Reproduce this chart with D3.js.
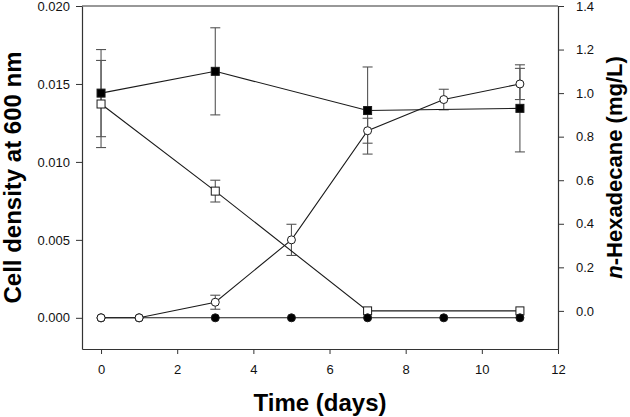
<!DOCTYPE html>
<html>
<head>
<meta charset="utf-8">
<script src="https://cdn.jsdelivr.net/npm/d3@7"></script>
<style>
  html, body { margin: 0; padding: 0; background: #fff; }
  svg { display: block; font-family: "Liberation Sans", Arial, sans-serif; }
</style>
</head>
<body>
<svg id="chart" width="630" height="417"></svg>
<script>
// ---- data ----
const days = [0, 1, 3, 5, 7, 9, 11];
const cellOpen = [0, 0, 0.001, 0.005, 0.012, 0.014, 0.015];
const cellOpenErr = [0, 0, 0.00045, 0.001, 0.0008, 0.00066, 0.001];
const cellFilled = [0, 0, 0, 0, 0, 0, 0];

const hexDays = [0, 3, 7, 11];
const hexOpen = [0.95, 0.55, 0.0, 0.0];
const hexOpenErr = [0.2, 0.05, 0, 0];
const hexFilled = [1.0, 1.10, 0.92, 0.93];
const hexFilledErr = [0.2, 0.2, 0.2, 0.2];

const xTicks = [0, 2, 4, 6, 8, 10, 12];
const leftTicks = [0, 0.005, 0.010, 0.015, 0.020];
const rightTicks = [0, 0.2, 0.4, 0.6, 0.8, 1.0, 1.2, 1.4];

const xTitle = "Time (days)";
const leftTitle = "Cell density at 600 nm";

// ---- layout ----
const L = 82, R = 558, T = 6, B = 349;
const svg = d3.select("#chart");

const x = d3.scaleLinear().domain([-0.5, 12]).range([L, R]);
const yL = d3.scaleLinear().domain([-0.002, 0.020]).range([B, T]);
const yR = d3.scaleLinear().domain([-0.175, 1.4]).range([B, T]);

const axisColor = "#333";
const lineColor = "#1a1a1a";
const errColor = "#555";

// axes
const gx = svg.append("g").attr("transform", `translate(0,${B})`)
  .call(d3.axisBottom(x).tickValues(xTicks).tickFormat(d3.format("d")).tickSize(5).tickSizeOuter(0).tickPadding(11));
const gl = svg.append("g").attr("transform", `translate(${L},0)`)
  .call(d3.axisLeft(yL).tickValues(leftTicks).tickFormat(d3.format(".3f")).tickSize(6).tickSizeOuter(0).tickPadding(6));
const gr = svg.append("g").attr("transform", `translate(${R},0)`)
  .call(d3.axisRight(yR).tickValues(rightTicks).tickFormat(d3.format(".1f")).tickSize(6).tickSizeOuter(0).tickPadding(12));
svg.append("line").attr("x1", L).attr("x2", R).attr("y1", T).attr("y2", T)
  .attr("stroke", axisColor).attr("stroke-width", 1.2);

[gx, gl, gr].forEach(g => {
  g.selectAll("path.domain").attr("stroke", axisColor).attr("stroke-width", 1.2);
  g.selectAll(".tick line").attr("stroke", axisColor).attr("stroke-width", 1);
  g.selectAll(".tick text").attr("fill", "#111").style("font-size", "13px")
    .style("font-family", "'Liberation Sans', Arial, sans-serif");
});

// titles
svg.append("text").attr("x", (L + R) / 2).attr("y", 411).attr("text-anchor", "middle")
  .style("font-size", "24px").style("font-weight", "bold").attr("fill", "#000").text(xTitle);
svg.append("text").attr("transform", `translate(21,${(T + B) / 2}) rotate(-90)`).attr("text-anchor", "middle")
  .style("font-size", "24px").style("font-weight", "bold").attr("fill", "#000").text(leftTitle);
const rt = svg.append("text").attr("transform", `translate(622,167.5) rotate(-90)`).attr("text-anchor", "middle")
  .style("font-size", "22px").style("font-weight", "bold").attr("fill", "#000");
rt.append("tspan").style("font-style", "italic").text("n");
rt.append("tspan").text("-Hexadecane (mg/L)");

// helpers
function errorBars(xs, vals, errs, yScale) {
  const g = svg.append("g").attr("stroke", errColor).attr("stroke-width", 1.1).attr("fill", "none");
  xs.forEach((d, i) => {
    if (!errs[i]) return;
    const cx = x(d), y1 = yScale(vals[i] + errs[i]), y2 = yScale(vals[i] - errs[i]);
    g.append("line").attr("x1", cx).attr("x2", cx).attr("y1", y1).attr("y2", y2);
    g.append("line").attr("x1", cx - 5).attr("x2", cx + 5).attr("y1", y1).attr("y2", y1);
    g.append("line").attr("x1", cx - 5).attr("x2", cx + 5).attr("y1", y2).attr("y2", y2);
  });
}
function seriesLine(xs, vals, yScale) {
  const pts = xs.map((d, i) => [x(d), yScale(vals[i])]);
  svg.append("path").attr("d", d3.line()(pts)).attr("fill", "none")
    .attr("stroke", lineColor).attr("stroke-width", 1.1);
}
function squares(xs, vals, yScale, fill) {
  svg.append("g").selectAll("rect").data(xs).join("rect")
    .attr("x", d => x(d) - 4).attr("y", (d, i) => yScale(vals[i]) - 4)
    .attr("width", 8).attr("height", 8)
    .attr("fill", fill).attr("stroke", lineColor).attr("stroke-width", 1);
}
function circles(xs, vals, yScale, fill) {
  svg.append("g").selectAll("circle").data(xs).join("circle")
    .attr("cx", d => x(d)).attr("cy", (d, i) => yScale(vals[i])).attr("r", 4)
    .attr("fill", fill).attr("stroke", lineColor).attr("stroke-width", 1);
}

// error bars
errorBars(hexDays, hexFilled, hexFilledErr, yR);
errorBars(hexDays, hexOpen, hexOpenErr, yR);
errorBars(days, cellOpen, cellOpenErr, yL);

// lines
seriesLine(hexDays, hexOpen, yR);
seriesLine(hexDays, hexFilled, yR);
seriesLine(days, cellFilled, yL);
seriesLine(days, cellOpen, yL);

// markers
squares(hexDays, hexOpen, yR, "#fff");
circles(days, cellFilled, yL, "#000");
squares(hexDays, hexFilled, yR, "#000");
circles(days, cellOpen, yL, "#fff");
</script>
</body>
</html>
